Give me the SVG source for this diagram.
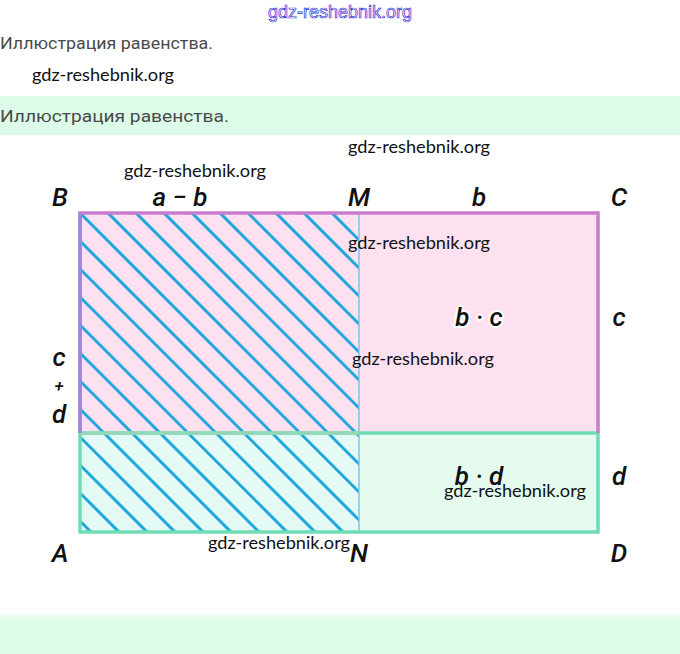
<svg xmlns="http://www.w3.org/2000/svg" width="680" height="654" viewBox="0 0 680 654">
  <style>
    .hdr { font-family: Roboto, "Liberation Sans", sans-serif; font-size: 16px; fill: #4a4a4a; }
    .wm { font-family: Lato, "Open Sans", sans-serif; font-size: 17px; fill: #111; }
    .lbl { font-family: Roboto, "Liberation Sans", sans-serif; font-style: italic; font-weight: 500; font-size: 26px; fill: #111; text-anchor: middle; }
    .halo { stroke: #fff; stroke-width: 4; paint-order: stroke; stroke-linejoin: round; }
    .hatch path { stroke: #1ea6df; stroke-width: 3; fill: none; }
  </style>
  <defs>
    <clipPath id="hclip"><rect x="80" y="213" width="279" height="319"/></clipPath>
    <linearGradient id="bg" x1="0" y1="0" x2="0" y2="1">
      <stop offset="0" stop-color="#f4fdf8"/>
      <stop offset="0.15" stop-color="#dcfce9"/>
      <stop offset="1" stop-color="#dcfce9"/>
    </linearGradient>
  </defs>
  <rect width="680" height="654" fill="#ffffff"/>
  <text x="340" y="18" text-anchor="middle" textLength="144" lengthAdjust="spacingAndGlyphs" font-family="'Liberation Sans', sans-serif" font-size="18" fill="#ffffff" stroke="#2f2fd8" stroke-width="0.7">gdz-reshebnik.org</text>
  <text class="hdr" x="0" y="49" textLength="213" lengthAdjust="spacingAndGlyphs">Иллюстрация равенства.</text>
  <text class="wm" x="32" y="81" textLength="142" lengthAdjust="spacingAndGlyphs">gdz-reshebnik.org</text>
  <rect x="0" y="96" width="680" height="39" fill="#dcfce9"/>
  <text class="hdr" x="0" y="122" textLength="229" lengthAdjust="spacingAndGlyphs">Иллюстрация равенства.</text>
  <rect x="0" y="614" width="680" height="40" fill="url(#bg)"/>

  <g id="rect-top">
    <rect x="80" y="213" width="518" height="220" fill="#fde1f0"/>
  </g>
  <g id="rect-bottom">
    <rect x="80" y="433" width="518" height="99" fill="#e4fbee"/>
    <rect x="80" y="433" width="279" height="99" fill="#e4faf5"/>
  </g>
  <g id="hatching" class="hatch" clip-path="url(#hclip)">
    <path d="M-269 200 l350 350"/>
    <path d="M-241 200 l350 350"/>
    <path d="M-213 200 l350 350"/>
    <path d="M-185 200 l350 350"/>
    <path d="M-157 200 l350 350"/>
    <path d="M-129 200 l350 350"/>
    <path d="M-101 200 l350 350"/>
    <path d="M-73 200 l350 350"/>
    <path d="M-45 200 l350 350"/>
    <path d="M-17 200 l350 350"/>
    <path d="M11 200 l350 350"/>
    <path d="M39 200 l350 350"/>
    <path d="M67 200 l350 350"/>
    <path d="M95 200 l350 350"/>
    <path d="M123 200 l350 350"/>
    <path d="M151 200 l350 350"/>
    <path d="M179 200 l350 350"/>
    <path d="M207 200 l350 350"/>
    <path d="M235 200 l350 350"/>
    <path d="M263 200 l350 350"/>
    <path d="M291 200 l350 350"/>
    <path d="M319 200 l350 350"/>
    <path d="M347 200 l350 350"/>
  </g>
  <g id="borders" fill="none">
    <line x1="359" y1="213" x2="359" y2="532" stroke="#7cc4ea" stroke-width="1.5"/>
    <rect x="80" y="433" width="518" height="99" stroke="#6fdcb6" stroke-width="3.5"/>
    <line x1="80" y1="433" x2="359" y2="433" stroke="#92d8b4" stroke-width="3.5"/>
    <path d="M80 433 V213 H598 V433" stroke="#c97ccc" stroke-width="3.5"/>
    <line x1="80" y1="213" x2="80" y2="433" stroke="#9c88d8" stroke-width="3.5"/>
  </g>

  <g id="labels">
    <text class="lbl" x="60" y="206">B</text>
    <text class="lbl" x="180" y="206">a − b</text>
    <text class="lbl" x="359" y="206">M</text>
    <text class="lbl" x="479" y="206">b</text>
    <text class="lbl" x="619" y="206">C</text>
    <text class="lbl" x="619" y="326">c</text>
    <text class="lbl halo" x="479" y="326">b · c</text>
    <text class="lbl" x="59" y="366">c</text>
    <text class="lbl" x="59" y="392" style="font-size:17px">+</text>
    <text class="lbl" x="59" y="423">d</text>
    <text class="lbl" x="479" y="485">b · d</text>
    <text class="lbl" x="619" y="485">d</text>
    <text class="lbl" x="60" y="562">A</text>
    <text class="lbl" x="359" y="562">N</text>
    <text class="lbl" x="619" y="562">D</text>
  </g>

  <g id="watermarks">
    <text class="wm" x="124" y="177" textLength="142" lengthAdjust="spacingAndGlyphs">gdz-reshebnik.org</text>
    <text class="wm" x="348" y="153" textLength="142" lengthAdjust="spacingAndGlyphs">gdz-reshebnik.org</text>
    <text class="wm" x="348" y="249" textLength="142" lengthAdjust="spacingAndGlyphs">gdz-reshebnik.org</text>
    <text class="wm" x="352" y="365" textLength="142" lengthAdjust="spacingAndGlyphs">gdz-reshebnik.org</text>
    <text class="wm" x="444" y="497" textLength="142" lengthAdjust="spacingAndGlyphs">gdz-reshebnik.org</text>
    <text class="wm" x="208" y="549" textLength="142" lengthAdjust="spacingAndGlyphs">gdz-reshebnik.org</text>
  </g>
</svg>
